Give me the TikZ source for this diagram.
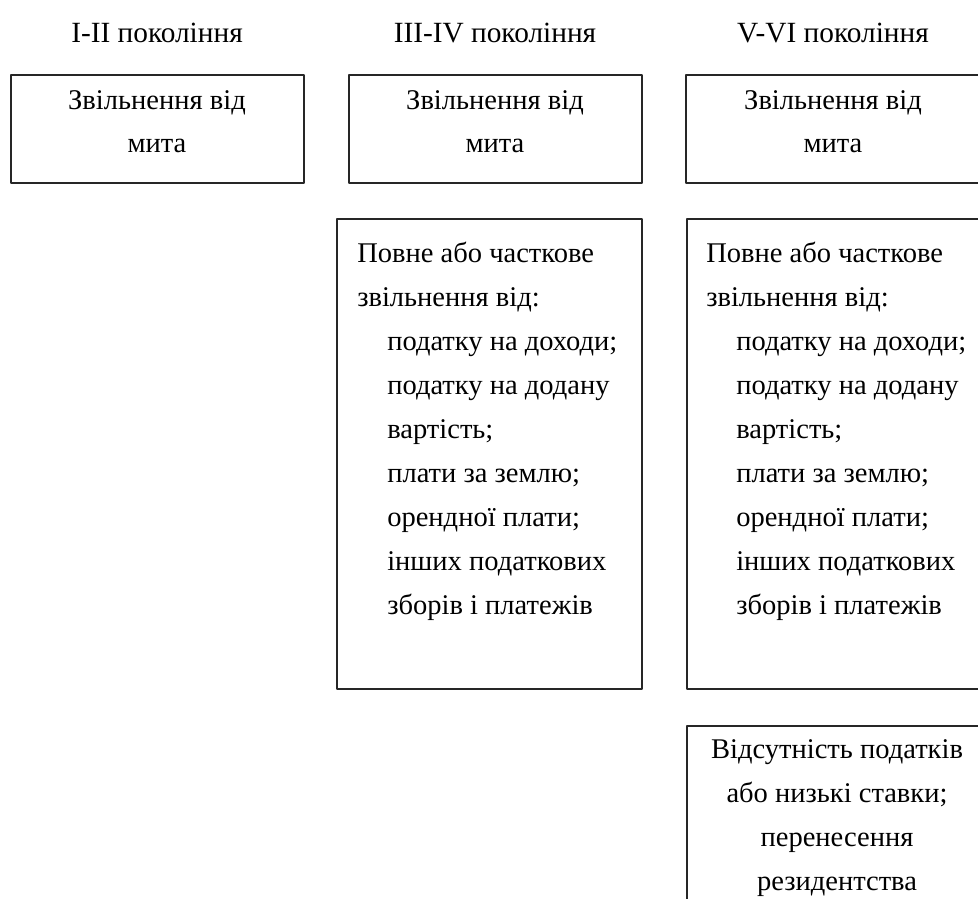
\documentclass[tikz,border=0pt]{standalone}
\usepackage{fontspec}
\setmainfont{Liberation Serif}
\usetikzlibrary{fit}
\begin{document}
\begin{tikzpicture}[x=0.75pt,y=-0.75pt,line join=round,
	gbox/.style={draw=black!85,line width=0.8pt,inner sep=0pt},
	txt/.style={inner sep=0pt,font=\fontsize{21.4}{24}\selectfont}]
	\useasboundingbox (0,0) rectangle (978,899);
	\clip (0,0) rectangle (978,899);
	% generations
	\node[txt,anchor=base,font=\fontsize{22}{24}\selectfont] (gen1) at (157,43) {I-II покоління};
	\node[txt,anchor=base,font=\fontsize{22}{24}\selectfont] (gen2) at (495,43) {III-IV покоління};
	\node[txt,anchor=base,font=\fontsize{22}{24}\selectfont] (gen3) at (833,43) {V-VI покоління};
	% duty boxes
	\node[gbox,fit={(11,75) (304,183)}] (duty1) {};
	\node[gbox,fit={(349,75) (642,183)}] (duty2) {};
	\node[gbox,fit={(686,75) (990,183)}] (duty3) {};
	\foreach \c/\x in {1/157,2/495,3/833}{
		\node[txt,anchor=base] (duty\c-a) at (\x,109) {Звільнення від};
		\node[txt,anchor=base] (duty\c-b) at (\x,152) {мита};
	}
	% tax boxes
	\node[gbox,fit={(337,219) (642,689)}] (tax2) {};
	\node[gbox,fit={(687,219) (995,689)}] (tax3) {};
	\foreach \c/\x in {2/357,3/706}{
		\node[txt,anchor=base west] (tax\c-a) at (\x,262) {Повне або часткове};
		\node[txt,anchor=base west] (tax\c-b) at (\x,306) {звільнення від:};
		\foreach \t [count=\i from 2] in {податку на доходи;,податку на додану,вартість;,плати за землю;,орендної плати;,інших податкових,зборів і платежів}
			\node[txt,anchor=base west] at (\x+30,262+44*\i) {\t};
	}
	% offshore box
	\node[gbox,fit={(687,726) (990,960)}] (offs3) {};
	\foreach \t [count=\i from 0] in {Відсутність податків,або низькі ставки;,перенесення,резидентства}
		\node[txt,anchor=base] at (837,758+44*\i) {\t};
\end{tikzpicture}
\end{document}
